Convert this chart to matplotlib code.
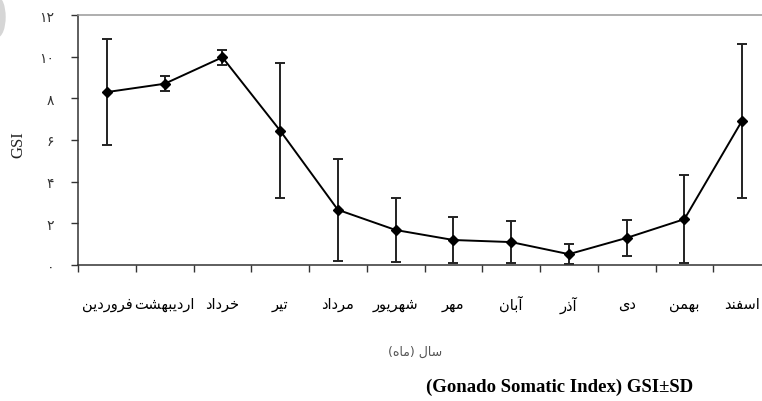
# GSI by month (mean ± SD), Persian month labels

import numpy as np
import matplotlib.pyplot as plt
from matplotlib.patches import Ellipse

months = ['فروردین', 'اردیبهشت', 'خرداد', 'تیر', 'مرداد', 'شهریور',
          'مهر', 'آبان', 'آذر', 'دی', 'بهمن', 'اسفند']
gsi_mean = [8.3, 8.7, 9.97, 6.45, 2.65, 1.68, 1.2, 1.1, 0.52, 1.3, 2.2, 6.93]
gsi_sd = [2.55, 0.36, 0.35, 3.25, 2.45, 1.53, 1.12, 1.0, 0.47, 0.87, 2.12, 3.7]
y_ticks = [0, 2, 4, 6, 8, 10, 12]
y_ticklabels = ['۰', '۲', '۴', '۶', '۸', '۱۰', '۱۲']
x_label = 'سال (ماه)'
y_label = 'GSI'
caption = '(Gonado Somatic Index) GSI±SD'

# matplotlib has no arabic shaping, so pick presentation forms by hand
FORMS = {
    'ا': ('\uFE8D', '\uFE8E', None, None),
    'آ': ('\uFE81', '\uFE82', None, None),
    'ب': ('\uFE8F', '\uFE90', '\uFE91', '\uFE92'),
    'ت': ('\uFE95', '\uFE96', '\uFE97', '\uFE98'),
    'خ': ('\uFEA5', '\uFEA6', '\uFEA7', '\uFEA8'),
    'د': ('\uFEA9', '\uFEAA', None, None),
    'ذ': ('\uFEAB', '\uFEAC', None, None),
    'ر': ('\uFEAD', '\uFEAE', None, None),
    'س': ('\uFEB1', '\uFEB2', '\uFEB3', '\uFEB4'),
    'ش': ('\uFEB5', '\uFEB6', '\uFEB7', '\uFEB8'),
    'ف': ('\uFED1', '\uFED2', '\uFED3', '\uFED4'),
    'ل': ('\uFEDD', '\uFEDE', '\uFEDF', '\uFEE0'),
    'م': ('\uFEE1', '\uFEE2', '\uFEE3', '\uFEE4'),
    'ن': ('\uFEE5', '\uFEE6', '\uFEE7', '\uFEE8'),
    'ه': ('\uFEE9', '\uFEEA', '\uFEEB', '\uFEEC'),
    'و': ('\uFEED', '\uFEEE', None, None),
    'ی': ('\uFEEF', '\uFEF0', '\uFEF3', '\uFEF4'),
}


def shape(text):
    out = []
    for i, ch in enumerate(text):
        if ch not in FORMS:
            out.append(ch)
            continue
        prev = text[i - 1] if i > 0 else None
        nxt = text[i + 1] if i < len(text) - 1 else None
        join_prev = prev in FORMS and FORMS[prev][2] is not None
        join_next = nxt in FORMS and FORMS[ch][2] is not None
        iso, fin, ini, med = FORMS[ch]
        if join_prev and join_next:
            out.append(med)
        elif join_prev:
            out.append(fin)
        elif join_next:
            out.append(ini)
        else:
            out.append(iso)
    s = ''.join(reversed(out))
    return s.translate(str.maketrans('()', ')('))


W, H = 762, 402
fig = plt.figure(figsize=(W / 100, H / 100), dpi=100)
ax = fig.add_axes([78 / W, 136 / H, (771 - 78) / W, 250 / H])

x = np.arange(len(months))
ax.errorbar(x, gsi_mean, yerr=gsi_sd, color='black', lw=1.4, marker='D',
            ms=5, ecolor='#222222', elinewidth=1.4, capsize=3.5, capthick=1.4)

ax.set_xlim(-0.5, len(months) - 0.5)
ax.set_ylim(0, 12)
ax.set_yticks(y_ticks)
ax.set_yticklabels(y_ticklabels, family='DejaVu Sans', fontsize=10, color='#333333')
ax.tick_params(axis='y', direction='out', length=5, width=1, pad=12, color='#333333')

ax.set_xticks(x)
ax.set_xticklabels([shape(m) for m in months], family='DejaVu Sans', fontsize=10.5)
ax.set_xticks(np.arange(-0.5, len(months)), minor=True)
ax.tick_params(axis='x', which='major', length=0, pad=22)
ax.tick_params(axis='x', which='minor', direction='out', length=5, width=1, color='#333333')

ax.spines['right'].set_visible(False)
ax.spines['top'].set_color('#999999')
ax.spines['left'].set_color('#333333')
ax.spines['bottom'].set_color('#333333')
for s in ('top', 'left', 'bottom'):
    ax.spines[s].set_linewidth(1.1)

fig.text(18 / W, 1 - 145 / H, y_label, rotation=90, ha='center', va='center',
         family='Liberation Serif', fontsize=12, color='#222222')
fig.text(415 / W, 1 - 352 / H, shape(x_label), ha='center', va='center',
         family='DejaVu Sans', fontsize=9, color='#555555')
fig.text(560 / W, 1 - 387 / H, caption, ha='center', va='center',
         family='Liberation Serif', fontsize=13.5, fontweight='bold')

# grey smudge at the top-left corner of the scan
fig.patches.append(Ellipse((-3 / W, 1 - 18 / H), 16 / W, 40 / H,
                           transform=fig.transFigure, color='#d6d6d6'))

fig.savefig('out.png', dpi=100)
